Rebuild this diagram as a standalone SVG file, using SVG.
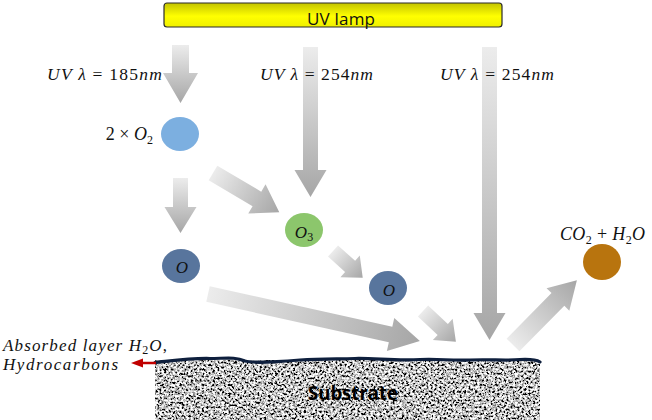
<svg xmlns="http://www.w3.org/2000/svg" width="652" height="420" viewBox="0 0 652 420">
<style>
.math{font-family:"Liberation Serif","DejaVu Serif",serif;fill:#111;}
.it{font-style:italic;}
.arrow{fill:url(#ag);}
.lbl{font-family:"Open Sans","Noto Sans",sans-serif;}
</style>
<defs>
<linearGradient id="ag" x1="0" y1="0" x2="1" y2="0">
<stop offset="0" stop-color="#ececec"/>
<stop offset="1" stop-color="#a6a6a6"/>
</linearGradient>
<linearGradient id="lampg" x1="0" y1="0" x2="0" y2="1">
<stop offset="0" stop-color="#c4c400"/>
<stop offset="0.55" stop-color="#ffff00"/>
<stop offset="1" stop-color="#f0f000"/>
</linearGradient>
<filter id="noise" x="0" y="0" width="1" height="1">
<feTurbulence type="fractalNoise" baseFrequency="0.45" numOctaves="3" seed="7" result="t"/>
<feColorMatrix in="t" type="matrix" values="3.2 0 0 0 -1.07  3.2 0 0 0 -1.07  3.2 0 0 0 -1.07  0 0 0 0 1" result="g"/>
<feComposite in="g" in2="SourceGraphic" operator="in"/>
</filter>
</defs>

<g id="lamp">
<rect x="164" y="3" width="338" height="24" rx="3" fill="url(#lampg)" stroke="#2b2b2b" stroke-width="1.2"/>
<text class="lbl" x="341" y="25" font-size="17" text-anchor="middle" fill="#111" textLength="68">UV lamp</text>
</g>

<g id="substrate">
<rect x="155" y="360" width="385" height="60" fill="#888" filter="url(#noise)"/>
<path d="M155,362.5 C170,361 190,358 210,358.5 C225,358.5 235,356.5 245,361 C255,363.5 275,362 300,360 C320,358.5 335,359 355,358.5 C375,358 395,361 420,359.5 C440,358.5 450,361 470,360 C490,359 505,361 520,359.5 C530,359 536,359.5 540,362" fill="none" stroke="#0e1f3d" stroke-width="3.2" stroke-linecap="round"/>
<text x="353" y="400" font-family="'Open Sans','Noto Sans',sans-serif" font-weight="bold" font-size="20" text-anchor="middle" fill="#000" textLength="90" lengthAdjust="spacingAndGlyphs">Substrate</text>
</g>

<g id="n_o2">
<ellipse cx="180" cy="134" rx="19" ry="17" fill="#7cafe0"/>
<text class="math" x="153" y="140" font-size="18" text-anchor="end">2 × <tspan class="it">O</tspan><tspan font-size="12" dy="4">2</tspan></text>
</g>
<g id="n_o_left">
<ellipse cx="181" cy="266" rx="19" ry="17" fill="#58759d"/>
<text class="math it" x="182" y="273" font-size="17" text-anchor="middle">O</text>
</g>
<g id="n_o3">
<ellipse cx="304" cy="230" rx="19" ry="17" fill="#8cc66c"/>
<text class="math" x="304" y="238" font-size="17" text-anchor="middle"><tspan class="it">O</tspan><tspan font-size="12" dy="3">3</tspan></text>
</g>
<g id="n_o_right">
<ellipse cx="388" cy="288" rx="19" ry="17" fill="#58759d"/>
<text class="math it" x="389" y="296" font-size="17" text-anchor="middle">O</text>
</g>
<g id="n_co2">
<ellipse cx="602" cy="262" rx="19" ry="18" fill="#b8740e"/>
</g>

<g id="connectors">
<path class="arrow" transform="translate(180.5,45) rotate(90)" d="M0,-8.5 L28,-8.5 L28,-17.5 L58,0 L28,17.5 L28,8.5 L0,8.5 Z"/>
<path class="arrow" transform="translate(310.5,47) rotate(90)" d="M0,-7.5 L123,-7.5 L123,-16 L150,0 L123,16 L123,7.5 L0,7.5 Z"/>
<path class="arrow" transform="translate(489.5,47) rotate(90)" d="M0,-7.5 L266,-7.5 L266,-16 L293,0 L266,16 L266,7.5 L0,7.5 Z"/>
<path class="arrow" transform="translate(180.5,178) rotate(90)" d="M0,-7.5 L29,-7.5 L29,-16 L55,0 L29,16 L29,7.5 L0,7.5 Z"/>
<path class="arrow" transform="translate(213,173) rotate(30.6)" d="M0,-8.5 L51,-8.5 L51,-17 L77,0 L51,17 L51,8.5 L0,8.5 Z"/>
<path class="arrow" transform="translate(333,251) rotate(42)" d="M0,-7.5 L23,-7.5 L23,-14.5 L40,0 L23,14.5 L23,7.5 L0,7.5 Z"/>
<path class="arrow" transform="translate(208,294) rotate(12.5)" d="M0,-8 L187,-8 L187,-17 L217,0 L187,17 L187,8 L0,8 Z"/>
<path class="arrow" transform="translate(423,311) rotate(43)" d="M0,-7.5 L27,-7.5 L27,-14.5 L45,0 L27,14.5 L27,7.5 L0,7.5 Z"/>
<path class="arrow" transform="translate(513,345) rotate(-45.4)" d="M0,-9 L64,-9 L64,-16 L91,0 L64,16 L64,9 L0,9 Z"/>
<g id="red_arrow">
<line x1="156" y1="363" x2="140" y2="363" stroke="#c00000" stroke-width="2.5"/>
<polygon points="131,363 143,358.5 143,367.5" fill="#c00000"/>
</g>
</g>

<g id="labels">
<text class="math" x="47" y="80" font-size="17.5" textLength="115"><tspan class="it">UV λ</tspan> = 185<tspan class="it">nm</tspan></text>
<text class="math" x="260" y="80" font-size="17.5" textLength="113"><tspan class="it">UV λ</tspan> = 254<tspan class="it">nm</tspan></text>
<text class="math" x="440" y="80" font-size="17.5" textLength="114"><tspan class="it">UV λ</tspan> = 254<tspan class="it">nm</tspan></text>
<text class="math" x="560" y="240" font-size="18" textLength="85"><tspan class="it">CO</tspan><tspan font-size="12" dy="4">2</tspan><tspan dy="-4"> + </tspan><tspan class="it">H</tspan><tspan font-size="12" dy="4">2</tspan><tspan class="it" dy="-4">O</tspan></text>
<text class="math" x="3" y="351" font-size="17" textLength="164"><tspan class="it">Absorbed layer H</tspan><tspan font-size="12" dy="3">2</tspan><tspan class="it" dy="-3">O</tspan>,</text>
<text class="math it" x="3" y="370" font-size="17" textLength="115">Hydrocarbons</text>
</g>
</svg>
